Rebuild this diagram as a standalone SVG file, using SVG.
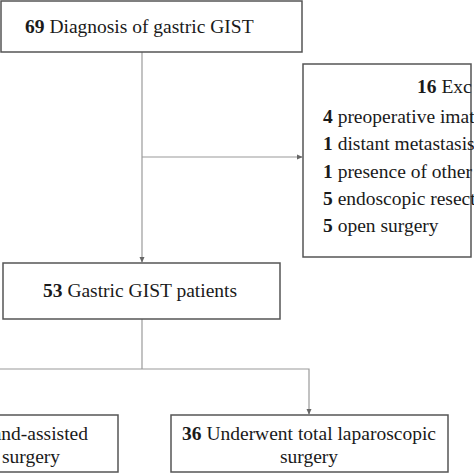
<svg xmlns="http://www.w3.org/2000/svg" width="474" height="474" viewBox="0 0 474 474">
<defs>
<style>
.box{fill:#fff;stroke:#555;stroke-width:1.5}
.t{font-family:"Liberation Serif","Times New Roman",serif;font-size:19.5px;fill:#1a1a1a}
.b{font-weight:bold}
.c{fill:none;stroke:#9a9a9a;stroke-width:1.2}
</style>
<marker id="ah" viewBox="0 0 8 8" refX="7" refY="4" markerWidth="6" markerHeight="6" orient="auto" markerUnits="userSpaceOnUse">
<path d="M0,0.5 L8,4 L0,7.5 Z" fill="#666"/>
</marker>
</defs>
<rect width="474" height="474" fill="#fff"/>
<g id="connectors">
<path class="c" d="M142,52 V262" marker-end="url(#ah)"/>
<path class="c" d="M142,157 H302" marker-end="url(#ah)"/>
<path class="c" d="M142,319 V369"/>
<path class="c" d="M0,369 H309 V414" marker-end="url(#ah)"/>
</g>
<g id="diagnosis">
<rect class="box" x="1" y="1" width="301" height="51"/>
<text class="t" x="25" y="33"><tspan class="b">69</tspan> Diagnosis of gastric GIST</text>
</g>
<g id="excluded">
<rect class="box" x="303" y="64" width="168" height="193"/>
<text class="t" x="417" y="93"><tspan class="b">16</tspan> Exc</text>
<text class="t" x="323" y="123"><tspan class="b">4</tspan> preoperative imat</text>
<text class="t" x="323" y="150"><tspan class="b">1</tspan> distant metastasis</text>
<text class="t" x="323" y="178"><tspan class="b">1</tspan> presence of other</text>
<text class="t" x="323" y="205"><tspan class="b">5</tspan> endoscopic resect</text>
<text class="t" x="323" y="232"><tspan class="b">5</tspan> open surgery</text>
</g>
<g id="patients">
<rect class="box" x="3" y="263" width="277" height="56"/>
<text class="t" x="43" y="297"><tspan class="b">53</tspan> Gastric GIST patients</text>
</g>
<g id="hand-assisted">
<rect class="box" x="-10" y="415" width="128" height="57"/>
<text class="t" x="88" y="440" text-anchor="end">and-assisted</text>
<text class="t" x="31" y="463" text-anchor="middle">surgery</text>
</g>
<g id="total-lap">
<rect class="box" x="171" y="415" width="277" height="57"/>
<text class="t" x="309" y="440" text-anchor="middle"><tspan class="b">36</tspan> Underwent total laparoscopic</text>
<text class="t" x="309" y="463" text-anchor="middle">surgery</text>
</g>
</svg>
